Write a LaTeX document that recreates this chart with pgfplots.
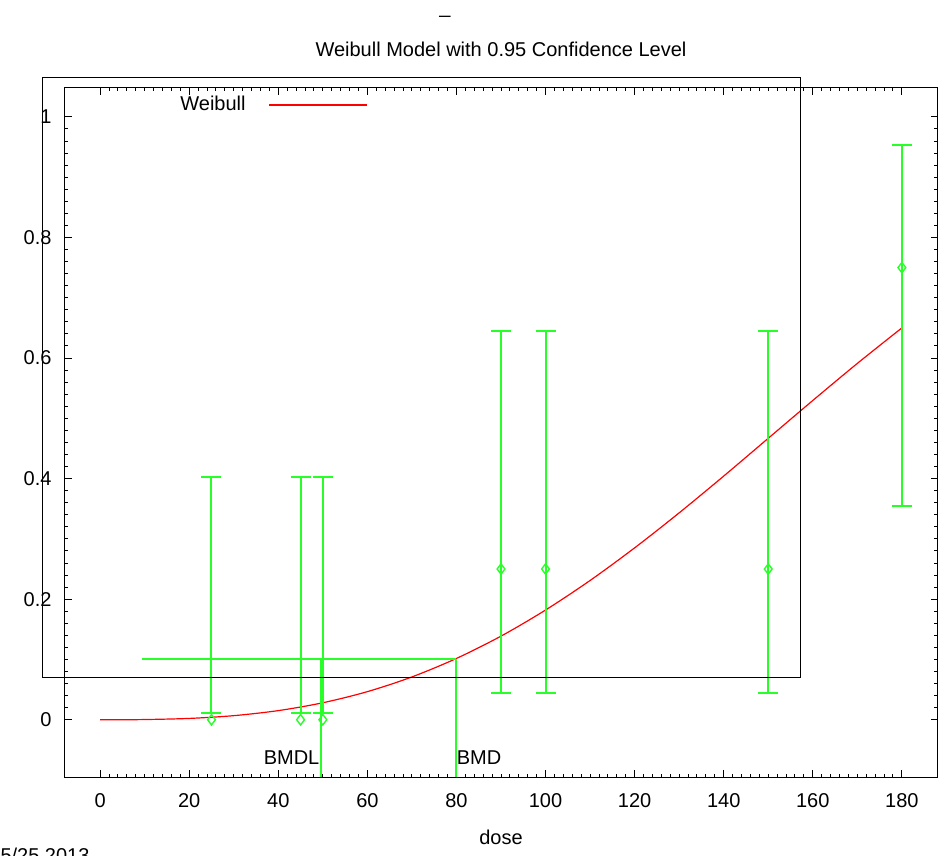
\documentclass[border=0pt]{standalone}
\usepackage{fontspec}
\setmainfont{Liberation Sans}
\usepackage{pgfplots}
\pgfplotsset{compat=1.18}
\definecolor{bmdgreen}{RGB}{40,255,40}
\begin{document}
\begin{tikzpicture}
\useasboundingbox (-32.25pt,-39pt) rectangle (440.25pt,388.5pt);
\begin{axis}[
  at={(0,0)}, anchor=south west,
  scale only axis, width=436.5pt, height=344.5pt,
  xmin=-8, xmax=188, ymin=-0.095, ymax=1.048,
  xtick={0,20,40,60,80,100,120,140,160,180},
  ytick={0,0.2,0.4,0.6,0.8,1},
  minor x tick num=9, minor y tick num=9,
  tick align=inside, major tick length=3.5pt, minor tick length=1.75pt,
  /pgf/number format/assume math mode=true,
  xticklabel style={yshift=-4.5pt},
  yticklabel style={xshift=-3pt},
  axis line style={line width=0.5pt},
  every tick/.style={black, line width=0.5pt},
  xlabel={dose},
  xlabel style={at={(axis description cs:0.5,0)}, anchor=base, yshift=-33.5pt},
  title={Weibull Model with 0.95 Confidence Level},
  title style={at={(axis description cs:0.5,1)}, anchor=base, yshift=9.5pt},
  clip=false,
  legend plot pos=right,
  legend style={draw=none, fill=none, at={(axis description cs:0.1323,0.9753)}, anchor=west,
    inner sep=0pt, column sep=11.5pt, nodes={inner sep=0pt}},
  legend image code/.code={\draw[#1, red, line width=0.6pt] (0pt,0pt) -- (49pt,0pt);},
]
% Weibull fitted curve
\addplot[red, line width=0.6pt, smooth] coordinates {
  (0,0) (5,0.00004) (10,0.00031) (20,0.00217) (30,0.00676) (40,0.01513)
  (50,0.02817) (60,0.0466) (70,0.0710) (80,0.1017) (90,0.1387)
  (100,0.1820) (110,0.2310) (120,0.2851) (130,0.3432) (140,0.4042)
  (150,0.4669) (160,0.5296) (170,0.5911) (180,0.6500)
};
\addlegendentry{Weibull}
% confidence intervals (centre, half-width)
\addplot[forget plot, draw=none, mark=none,
  error bars/.cd, y dir=both, y explicit, error mark=|,
  error bar style={bmdgreen, line width=1pt},
  error mark options={bmdgreen, line width=1pt, mark size=5pt}]
  table[x=x, y=c, y error=e] {
  x   c      e
  25  0.207  0.195
  45  0.207  0.195
  50  0.207  0.195
  90  0.345  0.300
  100 0.345  0.300
  150 0.345  0.300
  180 0.6545 0.2995
};
% observed proportions
\addplot[forget plot, only marks, mark=diamond, mark size=2.6pt, bmdgreen, mark options={line width=0.7pt}]
  coordinates {(25,0) (45,0) (50,0) (90,0.25) (100,0.25) (150,0.25) (180,0.75)};
% BMD / BMDL lines
\addplot[forget plot, bmdgreen, line width=1pt] coordinates {(9.4,0.1) (79.8,0.1)};
\addplot[forget plot, bmdgreen, line width=1pt] coordinates {(79.8,0.1) (79.8,-0.095)};
\addplot[forget plot, bmdgreen, line width=1pt] coordinates {(49.5,0.1) (49.5,-0.095)};
\node[anchor=base east, inner sep=0pt] at (axis cs:49.3,-0.075) {BMDL};
\node[anchor=base west, inner sep=0pt] at (axis cs:80.0,-0.075) {BMD};
% key box drawn by the original plot
\draw[black, line width=0.5pt] (axis cs:-13.0,0.0697) rectangle (axis cs:157.3,1.066);
\end{axis}
\node[anchor=base, inner sep=0pt] at (190.25pt,381.5pt) {\_};
\node[anchor=north west, inner sep=0pt] at (-37.75pt,-35.5pt) {05/25 2013};
\end{tikzpicture}
\end{document}
